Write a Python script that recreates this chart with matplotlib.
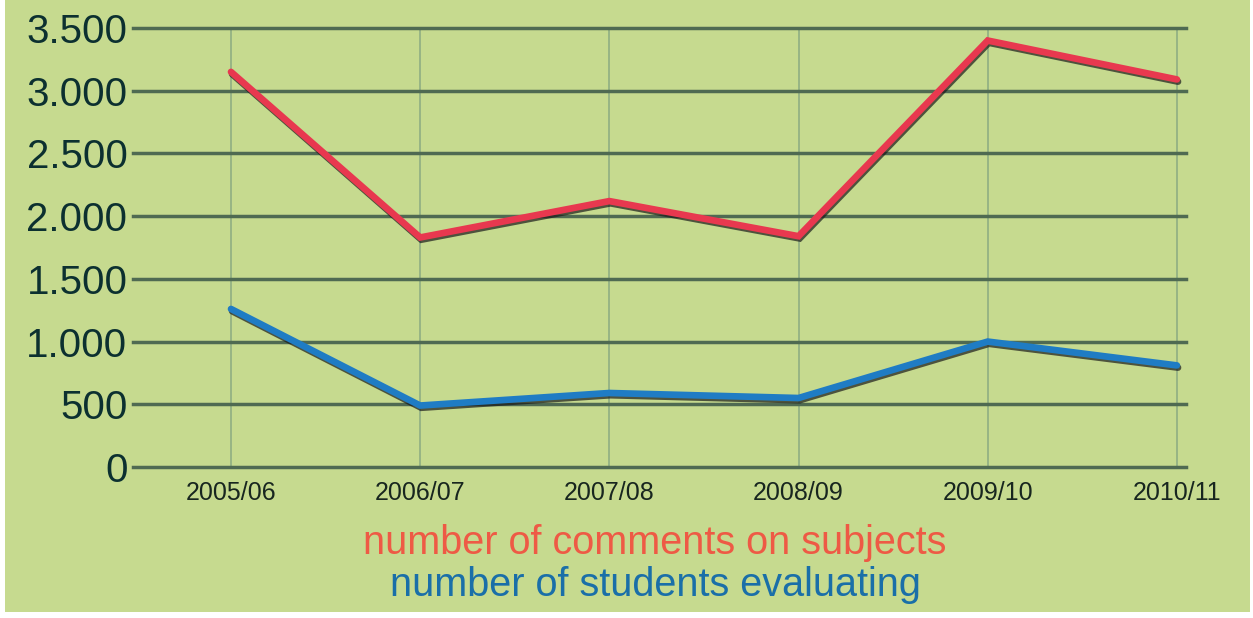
import matplotlib.pyplot as plt
import matplotlib.patheffects as pe
from matplotlib.patches import Rectangle
from matplotlib.ticker import FuncFormatter

# --- data ---
years = ["2005/06", "2006/07", "2007/08", "2008/09", "2009/10", "2010/11"]
comments = [3150, 1830, 2120, 1840, 3400, 3090]
students = [1260, 490, 590, 550, 1000, 810]
y_ticks = [0, 500, 1000, 1500, 2000, 2500, 3000, 3500]

bg = '#c6da8f'
grid_col = '#4f6a52'
red = '#e8384f'
blue = '#1f7cc4'

fig = plt.figure(figsize=(12.53, 6.18), dpi=100, facecolor='white')
fig.patches.append(Rectangle((5 / 1253, 6 / 618), 1245 / 1253, 612 / 618,
                             transform=fig.transFigure, facecolor=bg,
                             edgecolor='none', zorder=-10))

ax = fig.add_axes([133 / 1253, 1 - 467 / 618, (1186 - 133) / 1253, (467 - 28) / 618])
ax.set_facecolor('none')
x = list(range(len(years)))

shadow = [pe.SimpleLineShadow(offset=(0.8, -1.6), shadow_color='#1a1a1a', alpha=0.7),
          pe.Normal()]
ax.plot(x, comments, color=red, lw=4.8, solid_capstyle='round',
        solid_joinstyle='miter', path_effects=shadow, zorder=3)
ax.plot(x, students, color=blue, lw=4.8, solid_capstyle='round',
        solid_joinstyle='miter', path_effects=shadow, zorder=3)

ax.set_xlim(-0.518, 5.048)
ax.set_ylim(0, 3500)
ax.set_yticks(y_ticks)
ax.yaxis.set_major_formatter(FuncFormatter(lambda v, p: f"{int(v):,}".replace(',', '.')))
ax.set_xticks(x)
ax.set_xticklabels(years)

for s in ax.spines.values():
    s.set_visible(False)
ax.tick_params(length=0)
ax.tick_params(axis='y', pad=4, labelsize=29, labelcolor='#0c3030')
ax.tick_params(axis='x', pad=10, labelsize=18, labelcolor='#18261f')
for lab in ax.get_yticklabels():
    lab.set_family(['Liberation Sans', 'DejaVu Sans'])
for lab in ax.get_xticklabels():
    lab.set_family(['Liberation Sans Narrow', 'Liberation Sans', 'DejaVu Sans'])
    lab.set_fontweight('medium')

for v in y_ticks:
    ax.axhline(v, color=grid_col, lw=2.5, zorder=1, clip_on=False)
for xi in x:
    ax.axvline(xi, color='#8fae82', lw=1.2, zorder=0.5)

fig.text(655 / 1253, 1 - 543 / 618, "number of comments on subjects", color='#ee5a45',
         fontsize=28.5, ha='center', va='center', family=['Liberation Sans', 'DejaVu Sans'])
fig.text(655 / 1253, 1 - 585 / 618, "number of students evaluating", color='#1a6fa8',
         fontsize=28.5, ha='center', va='center', family=['Liberation Sans', 'DejaVu Sans'])

plt.savefig("out.png", dpi=100, facecolor='white')
plt.close()
